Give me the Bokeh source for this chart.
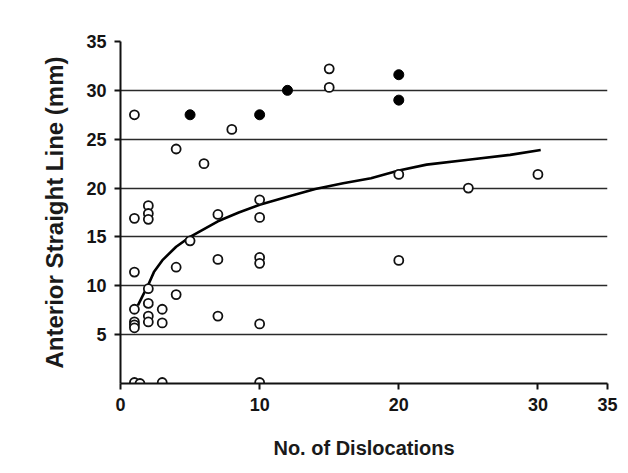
from bokeh.plotting import figure
from bokeh.models import FixedTicker
from bokeh.embed import file_html
from bokeh.resources import INLINE

# Open-circle observations
open_x = [1, 4, 6, 8, 15, 15, 2, 10,
          20, 30, 25, 20,
          2, 2, 1, 7, 10, 5, 1, 4, 7, 10, 10,
          2, 4, 1, 2, 3, 2, 2, 1, 1, 1, 3, 7, 10,
          1, 1.4, 3, 10]
open_y = [27.5, 24.0, 22.5, 26.0, 32.2, 30.3, 18.2, 18.8,
          21.4, 21.4, 20.0, 12.6,
          17.4, 16.8, 16.9, 17.3, 17.0, 14.6, 11.4, 11.9, 12.7, 12.9, 12.3,
          9.7, 9.1, 7.6, 8.2, 7.6, 6.9, 6.3, 6.3, 6.0, 5.7, 6.2, 6.9, 6.1,
          0.1, 0.0, 0.1, 0.1]

# Filled-circle observations
filled_x = [5, 10, 12, 20, 20]
filled_y = [27.5, 27.5, 30.0, 31.6, 29.0]

# Fitted curve
curve_x = [1.25, 1.6, 2.0, 2.4, 3.0, 4.0, 5.0, 6.0, 7.0, 8.5, 10.0, 12.0,
           14.0, 16.0, 18.0, 20.0, 22.0, 25.0, 28.0, 30.2]
curve_y = [8.0, 9.0, 10.1, 11.4, 12.6, 14.0, 15.0, 15.8, 16.6, 17.5, 18.3, 19.1,
           19.9, 20.5, 21.0, 21.8, 22.4, 22.9, 23.4, 23.9]

x_ticks = [0, 10, 20, 30, 35]
y_ticks = [5, 10, 15, 20, 25, 30, 35]
grid_ticks = [5, 10, 15, 20, 25, 30]

p = figure(width=620, height=465, output_backend="svg", toolbar_location=None,
           x_range=(0, 35), y_range=(0, 35),
           min_border_left=120, min_border_right=13,
           min_border_top=41, min_border_bottom=82)
p.outline_line_color = None
p.background_fill_color = "white"
p.border_fill_color = "white"

p.xgrid.visible = False
p.ygrid.ticker = FixedTicker(ticks=grid_ticks)
p.ygrid.grid_line_color = "#2a2a2a"
p.ygrid.grid_line_width = 1.6

p.xaxis.ticker = FixedTicker(ticks=x_ticks)
p.yaxis.ticker = FixedTicker(ticks=y_ticks)
for ax in (p.xaxis, p.yaxis):
    ax.axis_line_width = 2
    ax.axis_line_color = "#111111"
    ax.major_tick_line_width = 2
    ax.major_tick_line_color = "#111111"
    ax.major_tick_in = 0
    ax.major_tick_out = 6
    ax.minor_tick_line_color = None
    ax.major_label_text_font = "Liberation Sans"
    ax.major_label_text_font_style = "bold"
    ax.major_label_text_font_size = "18px"
    ax.major_label_text_color = "#141414"
    ax.axis_label_text_font = "Liberation Sans"
    ax.axis_label_text_font_style = "bold"
    ax.axis_label_text_color = "#1a1a1a"

p.xaxis.major_label_standoff = 8
p.yaxis.major_label_standoff = 8
p.xaxis.axis_label = "No. of Dislocations"
p.xaxis.axis_label_text_font_size = "20px"
p.xaxis.axis_label_standoff = 23
p.yaxis.axis_label = "Anterior Straight Line (mm)"
p.yaxis.axis_label_text_font_size = "24px"
p.yaxis.axis_label_standoff = 15

p.line(curve_x, curve_y, line_color="#000000", line_width=2.6)

p.scatter(open_x, open_y, marker="circle", size=9, fill_color="white",
          line_color="#111111", line_width=1.8)
p.scatter(filled_x, filled_y, marker="circle", size=10, fill_color="#000000",
          line_color="#000000", line_width=1)

open("out.html", "w").write(file_html(p, INLINE))
